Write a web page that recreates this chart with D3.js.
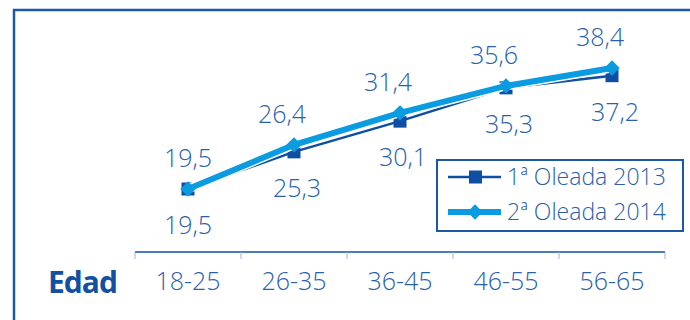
<!DOCTYPE html>
<html>
<head>
<meta charset="utf-8">
<script src="https://cdn.jsdelivr.net/npm/d3@7"></script>
<style>
  body { margin: 0; background: #fff; }
  text { font-family: "Open Sans", sans-serif; }
</style>
</head>
<body>
<div id="chart"></div>
<script>
// age groups on the x axis
const categories = ['18-25', '26-35', '36-45', '46-55', '56-65'];
// series values
const wave2013 = [19.5, 25.3, 30.1, 35.3, 37.2];
const wave2014 = [19.5, 26.4, 31.4, 35.6, 38.4];
const seriesNames = ['1ª Oleada 2013', '2ª Oleada 2014'];
const axisTitle = 'Edad';

const width = 690, height = 320;
const darkBlue = '#0e4fa3', lightBlue = '#0a9be0', textBlue = '#2a5fab';
const lightFont = '"Open Sans", Lato, sans-serif';

const svg = d3.select('#chart').append('svg')
    .attr('width', width)
    .attr('height', height);

// frame (top + left border)
svg.append('path')
    .attr('d', `M14,${height} L14,10 L${width},10`)
    .attr('fill', 'none')
    .attr('stroke', '#1c57a5')
    .attr('stroke-width', 2.5);

// x scale
const xScale = d3.scaleBand()
    .domain(categories)
    .range([135, 665]);

// y scale
const yScale = d3.scaleLinear()
    .domain([19.5, 38.4])
    .range([189, 68]);

// x axis
const xAxis = svg.append('g')
    .attr('transform', 'translate(0, 252)')
    .call(d3.axisBottom(xScale).tickSize(0).tickPadding(20));
xAxis.select('.domain').remove();
xAxis.append('line')
    .attr('x1', 135).attr('x2', 665)
    .attr('stroke', darkBlue).attr('stroke-width', 1.5);
xAxis.selectAll('.sep')
    .data(d3.range(categories.length + 1))
    .enter().append('line')
    .attr('class', 'sep')
    .attr('x1', function (d) { return 135 + d * xScale.step(); })
    .attr('x2', function (d) { return 135 + d * xScale.step(); })
    .attr('y1', 0).attr('y2', 7)
    .attr('stroke', '#9fb3d6').attr('stroke-width', 1);
xAxis.selectAll('.tick text')
    .attr('font-size', 25)
    .attr('font-family', lightFont)
    .attr('font-weight', 300)
    .attr('fill', textBlue);

// axis title
svg.append('text')
    .attr('x', 48).attr('y', 293)
    .attr('font-size', 30)
    .attr('font-weight', 'bold')
    .attr('fill', '#1250a0')
    .attr('textLength', 70)
    .text(axisTitle);

const cx = function (d, i) { return xScale(categories[i]) + xScale.bandwidth() / 2; };
const line = d3.line()
    .x(function (d, i) { return cx(d, i); })
    .y(function (d) { return yScale(d); });

// 2013 line + square markers
svg.append('path')
    .datum(wave2013)
    .attr('d', line)
    .attr('fill', 'none')
    .attr('stroke', darkBlue)
    .attr('stroke-width', 2.5);
svg.selectAll('.sq')
    .data(wave2013)
    .enter().append('rect')
    .attr('class', 'sq')
    .attr('x', function (d, i) { return cx(d, i) - 6.5; })
    .attr('y', function (d) { return yScale(d) - 6.5; })
    .attr('width', 13).attr('height', 13)
    .attr('fill', darkBlue);

// 2014 line + diamond markers
svg.append('path')
    .datum(wave2014)
    .attr('d', line)
    .attr('fill', 'none')
    .attr('stroke', '#fff')
    .attr('stroke-width', 9);
svg.append('path')
    .datum(wave2014)
    .attr('d', line)
    .attr('fill', 'none')
    .attr('stroke', lightBlue)
    .attr('stroke-width', 6);
svg.selectAll('.dm')
    .data(wave2014)
    .enter().append('path')
    .attr('class', 'dm')
    .attr('d', d3.symbol().type(d3.symbolDiamond2).size(150))
    .attr('transform', function (d, i) { return `translate(${cx(d, i)},${yScale(d)})`; })
    .attr('fill', lightBlue);

// value labels
const fmt = function (d) { return d.toFixed(1).replace('.', ','); };
svg.selectAll('.lbl14')
    .data(wave2014)
    .enter().append('text')
    .attr('class', 'lbl14')
    .attr('x', function (d, i) { return cx(d, i) - (i ? 12 : 0); })
    .attr('y', function (d) { return yScale(d) - 22; })
    .attr('text-anchor', 'middle')
    .attr('font-size', 25)
    .attr('font-family', lightFont)
    .attr('font-weight', 300)
    .attr('fill', textBlue)
    .text(fmt);
svg.selectAll('.lbl13')
    .data(wave2013)
    .enter().append('text')
    .attr('class', 'lbl13')
    .attr('x', function (d, i) { return cx(d, i) + (i ? 3 : 0); })
    .attr('y', function (d) { return yScale(d) + 45; })
    .attr('text-anchor', 'middle')
    .attr('font-size', 25)
    .attr('font-family', lightFont)
    .attr('font-weight', 300)
    .attr('fill', textBlue)
    .text(fmt);

// legend
const legend = svg.append('g').attr('transform', 'translate(437,160)');
legend.append('rect')
    .attr('width', 246).attr('height', 71)
    .attr('fill', '#fff')
    .attr('stroke', '#1c57a5').attr('stroke-width', 2);
const items = legend.selectAll('.item')
    .data(seriesNames)
    .enter().append('g')
    .attr('class', 'item')
    .attr('transform', function (d, i) { return `translate(0,${17 + i * 35})`; });
items.append('line')
    .attr('x1', 11).attr('x2', 64)
    .attr('stroke', function (d, i) { return i ? lightBlue : darkBlue; })
    .attr('stroke-width', function (d, i) { return i ? 6 : 2.5; });
items.each(function (d, i) {
    const g = d3.select(this);
    if (i === 0) {
        g.append('rect').attr('x', 32).attr('y', -6.5).attr('width', 13).attr('height', 13).attr('fill', darkBlue);
    } else {
        g.append('path').attr('d', d3.symbol().type(d3.symbolDiamond2).size(150))
            .attr('transform', 'translate(38,0)').attr('fill', lightBlue);
    }
});
items.append('text')
    .attr('x', 70).attr('y', 8)
    .attr('font-size', 23)
    .attr('font-family', lightFont)
    .attr('font-weight', 300)
    .attr('fill', textBlue)
    .text(function (d) { return d; });
</script>
</body>
</html>
